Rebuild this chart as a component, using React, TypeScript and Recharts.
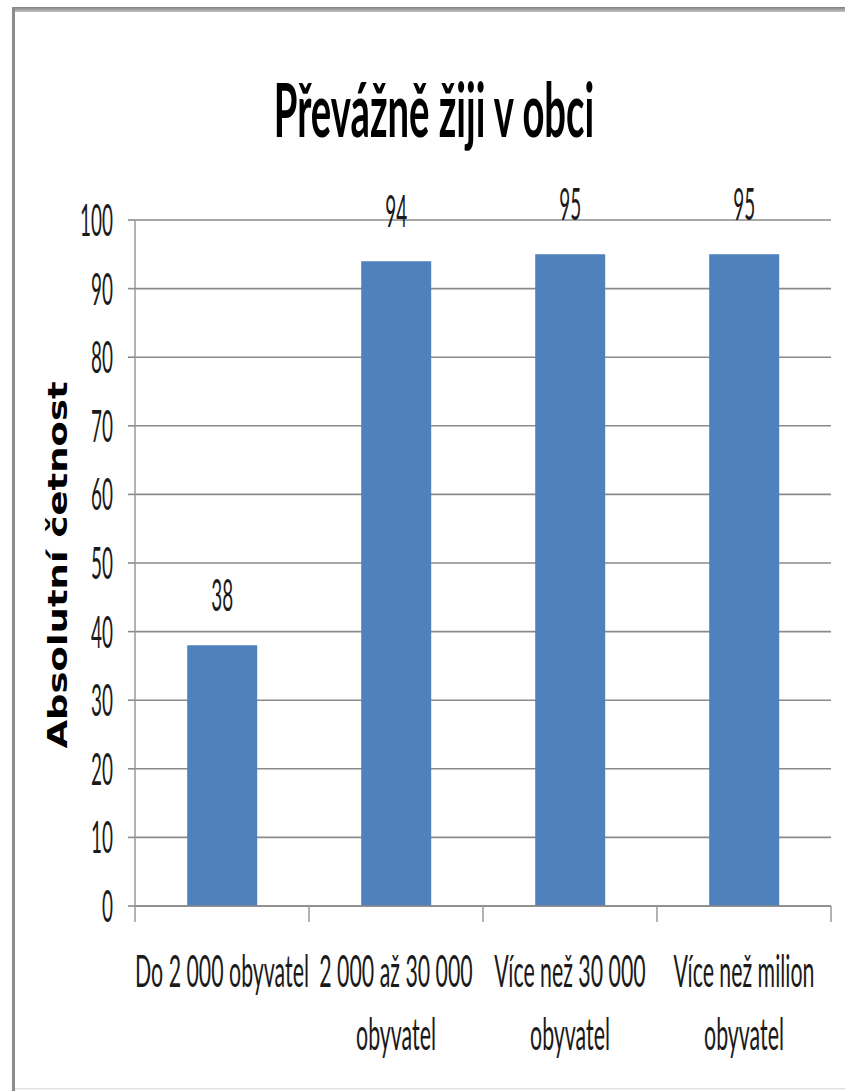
import React from 'react';
import { BarChart, Bar, XAxis, YAxis, CartesianGrid, LabelList } from 'recharts';

// ---- data ----
const categories = [
  'Do 2 000 obyvatel',
  '2 000 až 30 000\nobyvatel',
  'Více než 30 000\nobyvatel',
  'Více než milion\nobyvatel',
];
const values = [38, 94, 95, 95];
const yTicks = [0, 10, 20, 30, 40, 50, 60, 70, 80, 90, 100];
const chartTitle = 'Převážně žiji v obci';
const yAxisTitle = 'Absolutní četnost';

const data = categories.map((name, i) => ({ name, value: values[i] }));

// ---- layout ----
const W = 845;
const H = 1091;
const PLOT_LEFT = 135;
const PLOT_RIGHT = 831;
const PLOT_TOP = 220;
const PLOT_BOTTOM = 906;
const BAND = (PLOT_RIGHT - PLOT_LEFT) / categories.length;

const FONT = 'Lato, "Open Sans", sans-serif';
const NUM_SIZE = 44;
const NUM_SX = 0.43;
const LBL_SIZE = 44;
const LBL_SX = 0.485;
const TEXT = '#1a1a1a';
const GRID = '#8a8a8a';

const YTick = (props: any) => {
  const { x, y, payload } = props;
  return (
    <text
      transform={`translate(${x},${Number(y) + 16}) scale(${NUM_SX},1)`}
      textAnchor="end"
      fontFamily={FONT}
      fontSize={NUM_SIZE}
      fill={TEXT}
    >
      {payload.value}
    </text>
  );
};

const XTick = (props: any) => {
  const { x, y, payload, index } = props;
  const cx = Number(x);
  const ty = Number(y);
  const lines = String(payload.value).split('\n');
  const left = cx - BAND / 2;
  const right = cx + BAND / 2;
  return (
    <g>
      <line x1={left} x2={left} y1={ty} y2={ty + 16} stroke="#9a9a9a" strokeWidth={1.5} />
      {index === categories.length - 1 && (
        <line x1={right} x2={right} y1={ty} y2={ty + 16} stroke="#9a9a9a" strokeWidth={1.5} />
      )}
      {lines.map((ln, i) => (
        <text
          key={i}
          transform={`translate(${cx},${ty + 81 + i * 63}) scale(${LBL_SX},1)`}
          textAnchor="middle"
          fontFamily={FONT}
          fontSize={LBL_SIZE}
          fill={TEXT}
        >
          {ln}
        </text>
      ))}
    </g>
  );
};

const BarValue = (props: any) => {
  const { x, y, width, value } = props;
  return (
    <text
      transform={`translate(${Number(x) + Number(width) / 2},${Number(y) - 34}) scale(${NUM_SX},1)`}
      textAnchor="middle"
      fontFamily={FONT}
      fontSize={NUM_SIZE}
      fill={TEXT}
    >
      {value}
    </text>
  );
};

export default function App() {
  return (
    <div
      style={{
        position: 'absolute',
        left: 0,
        top: 0,
        width: W,
        height: H,
        overflow: 'hidden',
        background: '#fff',
      }}
    >
      <BarChart
        width={W}
        height={H}
        data={data}
        margin={{ top: PLOT_TOP, right: W - PLOT_RIGHT, left: 0, bottom: 0 }}
        barCategoryGap="30%"
      >
        <CartesianGrid vertical={false} stroke={GRID} strokeWidth={1.6} />
        <YAxis
          type="number"
          domain={[0, 100]}
          ticks={yTicks}
          interval={0}
          width={PLOT_LEFT}
          tickSize={7}
          tickMargin={15}
          tickLine={{ stroke: GRID, strokeWidth: 1.6 }}
          axisLine={{ stroke: '#9a9a9a', strokeWidth: 1.5 }}
          tick={<YTick />}
        />
        <XAxis
          dataKey="name"
          type="category"
          height={H - PLOT_BOTTOM}
          interval={0}
          tickSize={0}
          tickMargin={0}
          tickLine={false}
          axisLine={{ stroke: GRID, strokeWidth: 1.6 }}
          tick={<XTick />}
        />
        <Bar dataKey="value" fill="#4F81BD" isAnimationActive={false}>
          <LabelList dataKey="value" content={<BarValue />} />
        </Bar>
      </BarChart>
      <svg
        width={W}
        height={H}
        style={{ position: 'absolute', left: 0, top: 0, pointerEvents: 'none' }}
      >
        <defs>
          <linearGradient id="topBorder" x1="0" y1="0" x2="0" y2="1">
            <stop offset="0" stopColor="#808080" />
            <stop offset="1" stopColor="#c4c4c4" />
          </linearGradient>
        </defs>
        <rect x={12} y={7} width={W - 12} height={5} fill="url(#topBorder)" />
        <rect x={12} y={7} width={3} height={H - 7} fill="#8c8c8c" />
        <rect x={15} y={1088} width={W - 15} height={1.5} fill="#e2e2e2" />
        <text
          transform={`translate(434,137) scale(0.51,1)`}
          textAnchor="middle"
          fontFamily={FONT}
          fontWeight={700}
          fontSize={75}
          fill="#000"
        >
          {chartTitle}
        </text>
        <text
          transform={`translate(67,565) rotate(-90) scale(1.37,1)`}
          textAnchor="middle"
          fontFamily='"DejaVu Sans", sans-serif'
          fontWeight={700}
          fontSize={27}
          fill="#000"
        >
          {yAxisTitle}
        </text>
      </svg>
    </div>
  );
}
